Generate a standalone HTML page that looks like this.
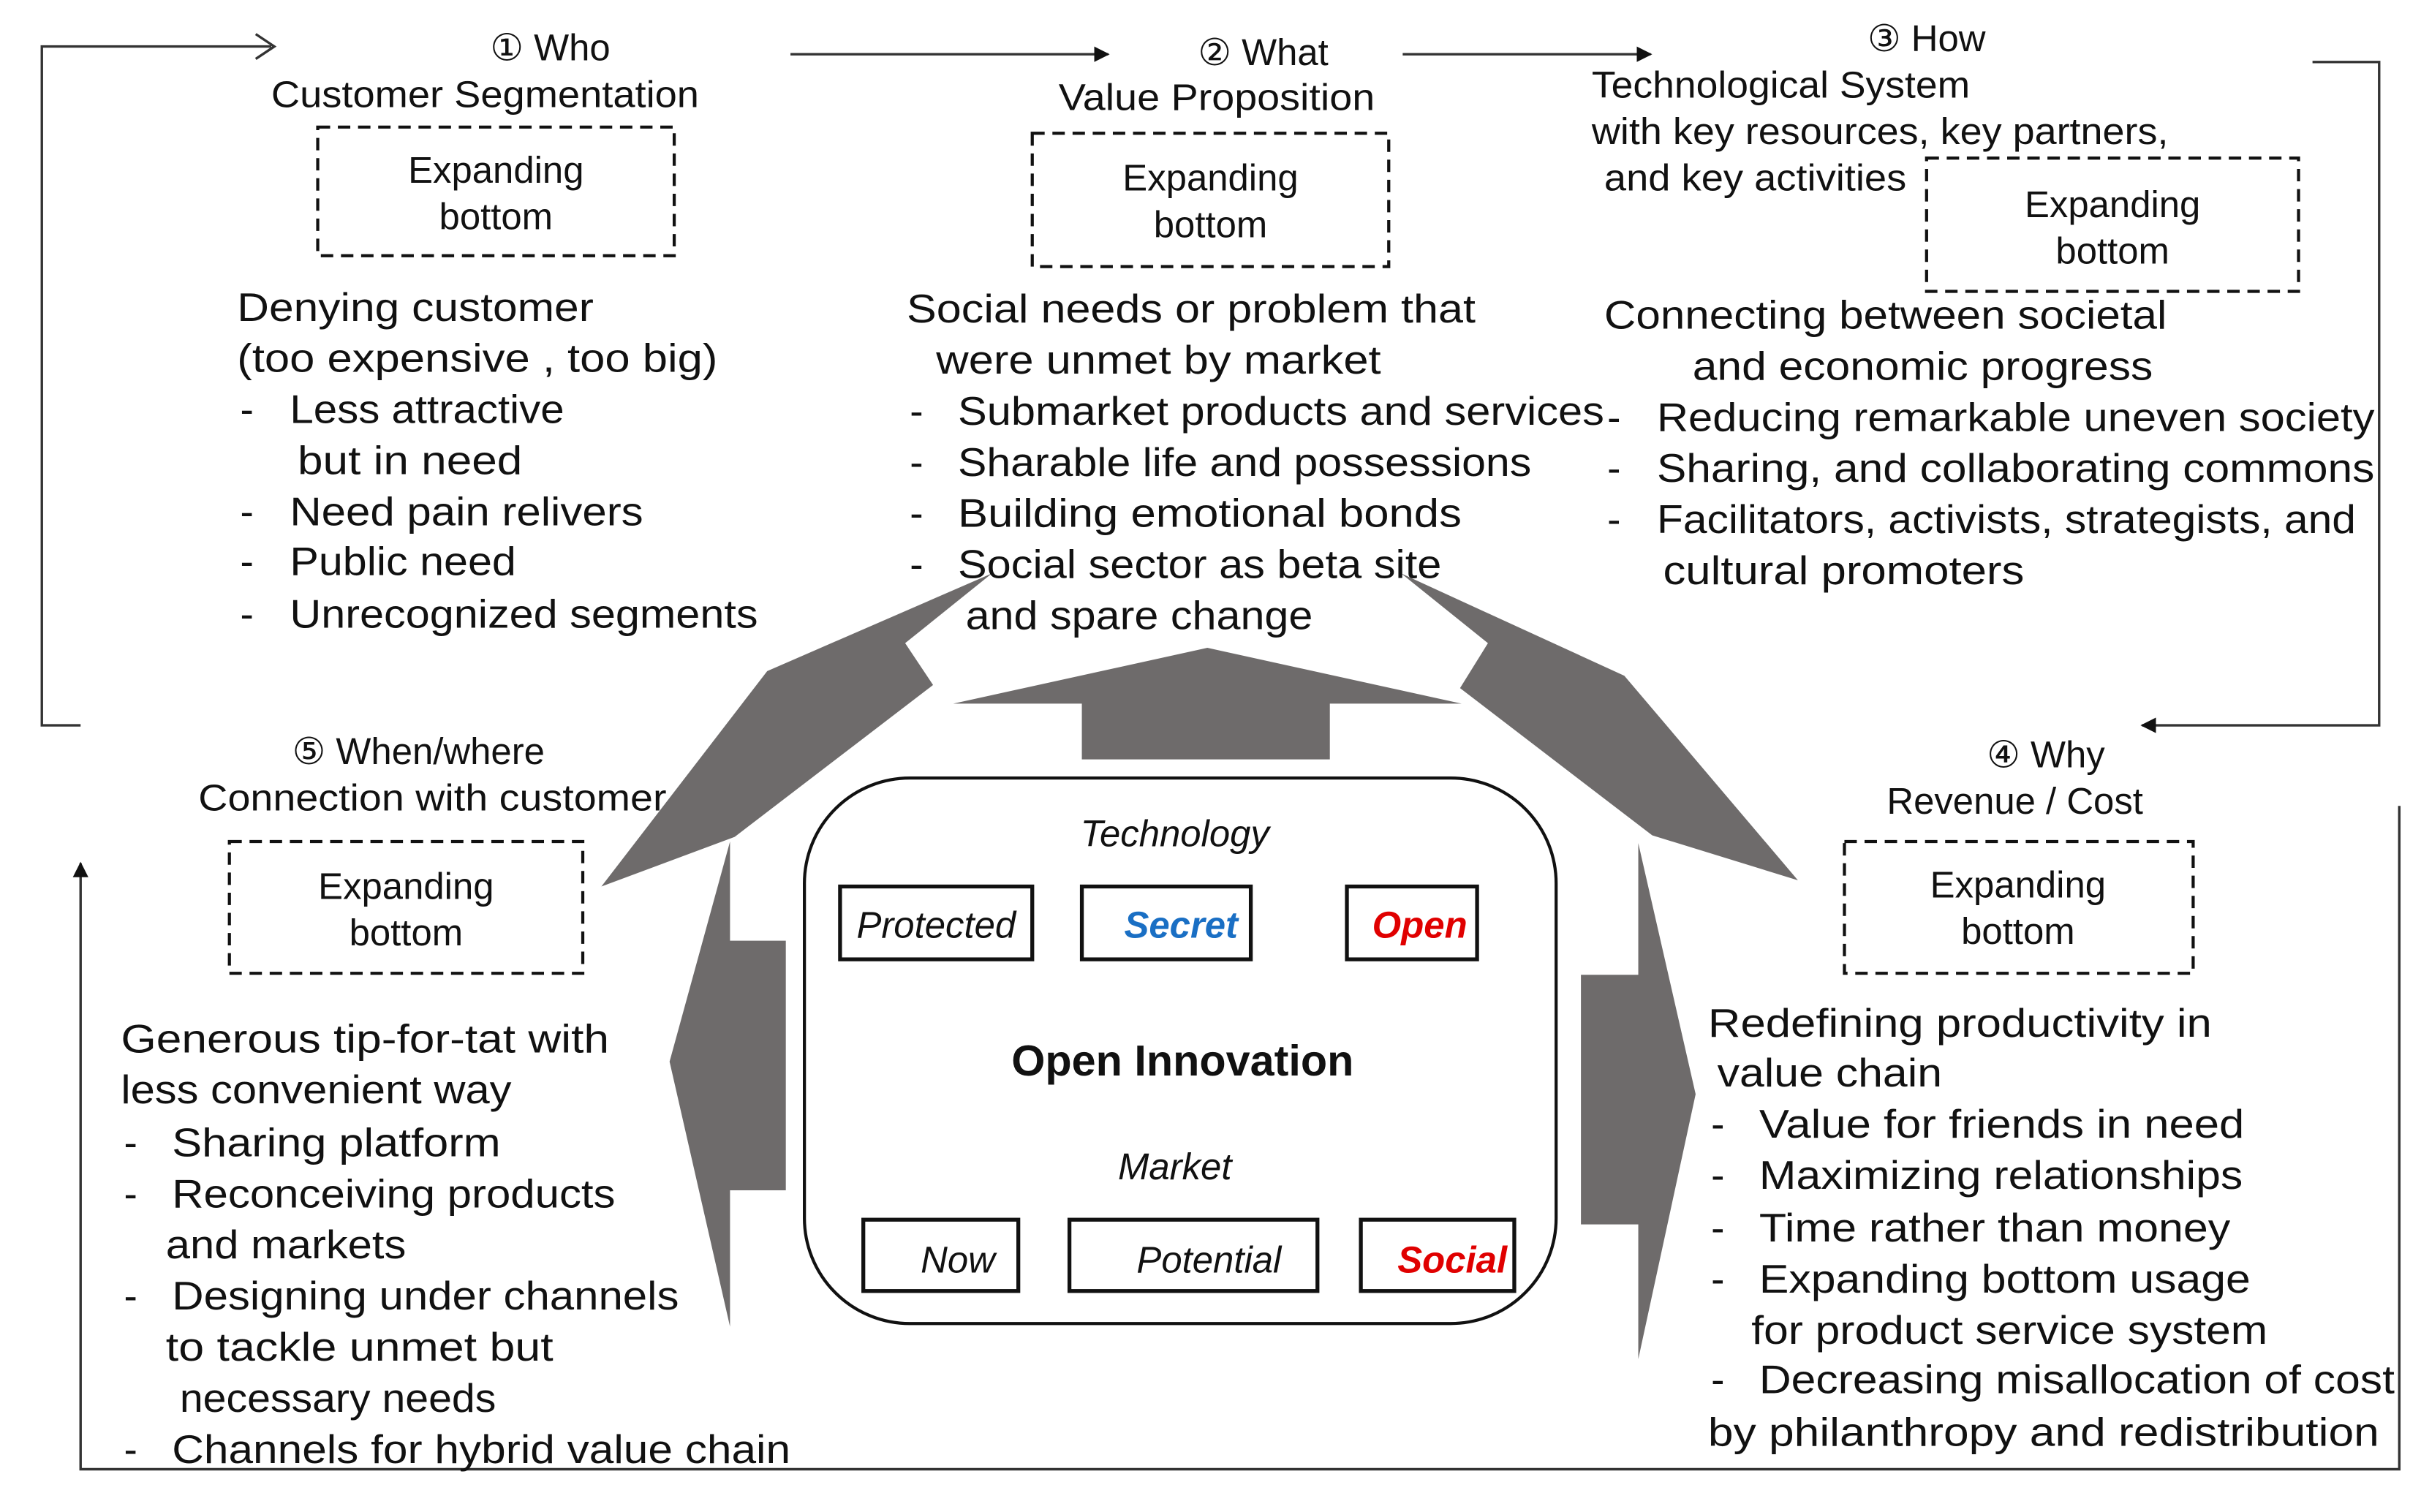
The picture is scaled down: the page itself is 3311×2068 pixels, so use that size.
<!DOCTYPE html>
<html><head><meta charset="utf-8"><style>
html,body{margin:0;padding:0;background:#fff;}
svg{display:block;}
text{font-family:"Liberation Sans","DejaVu Sans",sans-serif;fill:#111;}
</style></head><body>
<svg width="3311" height="2068" viewBox="0 0 1562 975.6" preserveAspectRatio="none" xmlns="http://www.w3.org/2000/svg">
<defs>
<marker id="fa" markerWidth="10" markerHeight="10" refX="9" refY="5" orient="auto" markerUnits="userSpaceOnUse"><path d="M0,0 L10,5 L0,10 z" fill="#111"/></marker>
</defs>
<rect width="1562" height="976" fill="#fff"/>
<!-- connectors -->
<g stroke="#333" stroke-width="1.6" fill="none">
<polyline points="52,468 27,468 27,30 175,30"/>
<polyline points="165,22 177,30 165,38"/>
<line x1="510" y1="35" x2="715" y2="35" marker-end="url(#fa)"/>
<line x1="905" y1="35" x2="1065" y2="35" marker-end="url(#fa)"/>
<polyline points="1492,40 1535,40 1535,468 1382,468" marker-end="url(#fa)"/>
<polyline points="1548,520 1548,948 52,948 52,557" marker-end="url(#fa)"/>
</g>
<!-- gray arrows -->
<g fill="#6e6b6b">
<polygon points="615,454 779,418 943,454 858,454 858,490 698,490 698,454"/>
<polygon points="640,370 584,415 602,442 474,540 388,572 495,433"/>
<polygon points="904,370 960,415 942,444 1066,539 1160,568 1048,436"/>
<polygon points="471,543 432,685 471,856 471,768 507,768 507,607 471,607"/>
<polygon points="1057,544 1094,706 1057,877 1057,790 1020,790 1020,629 1057,629"/>
</g>
<!-- center box -->
<rect x="519" y="502" width="485" height="352" rx="68" ry="68" fill="#fff" stroke="#111" stroke-width="2"/>
<text x="758" y="546" font-size="24" font-style="italic" text-anchor="middle">Technology</text>
<g fill="#fff" stroke="#111" stroke-width="2.5">
<rect x="542" y="572" width="124" height="47"/>
<rect x="698" y="572" width="109" height="47"/>
<rect x="869" y="572" width="84" height="47"/>
<rect x="557" y="787" width="100" height="46"/>
<rect x="690" y="787" width="160" height="46"/>
<rect x="878" y="787" width="99" height="46"/>
</g>
<text x="604" y="605" font-size="24" font-style="italic" text-anchor="middle">Protected</text>
<text x="762" y="605" font-size="24" font-style="italic" font-weight="bold" text-anchor="middle" style="fill:#1a6fc4">Secret</text>
<text x="916" y="605" font-size="24" font-style="italic" font-weight="bold" text-anchor="middle" style="fill:#e00000">Open</text>
<text x="763" y="694" font-size="28" font-weight="bold" text-anchor="middle">Open Innovation</text>
<text x="758" y="761" font-size="24" font-style="italic" text-anchor="middle">Market</text>
<text x="618" y="821" font-size="24" font-style="italic" text-anchor="middle">Now</text>
<text x="780" y="821" font-size="24" font-style="italic" text-anchor="middle">Potential</text>
<text x="937" y="821" font-size="24" font-style="italic" font-weight="bold" text-anchor="middle" style="fill:#e00000">Social</text>
<!-- dashed boxes -->
<g fill="none" stroke="#111" stroke-width="2" stroke-dasharray="8,5">
<rect x="205" y="82" width="230" height="83"/>
<rect x="666" y="86" width="230" height="86"/>
<rect x="1243" y="102" width="240" height="86"/>
<rect x="1190" y="543" width="225" height="85"/>
<rect x="148" y="543" width="228" height="85"/>
</g>
<g font-size="24" text-anchor="middle">
<text x="320" y="118">Expanding</text><text x="320" y="148">bottom</text>
<text x="781" y="123">Expanding</text><text x="781" y="153">bottom</text>
<text x="1363" y="140">Expanding</text><text x="1363" y="170">bottom</text>
<text x="1302" y="579">Expanding</text><text x="1302" y="609">bottom</text>
<text x="262" y="580">Expanding</text><text x="262" y="610">bottom</text>
</g>
<!-- headings -->
<g font-size="24">
<text x="355" y="39" text-anchor="middle">① Who</text>
<text x="313" y="69" text-anchor="middle" textLength="276" lengthAdjust="spacingAndGlyphs">Customer Segmentation</text>
<text x="815" y="42" text-anchor="middle">② What</text>
<text x="785" y="71" text-anchor="middle" textLength="204" lengthAdjust="spacingAndGlyphs">Value Proposition</text>
<text x="1243" y="33" text-anchor="middle">③ How</text>
<text x="1027" y="63" textLength="244" lengthAdjust="spacingAndGlyphs">Technological System</text>
<text x="1027" y="93" textLength="372" lengthAdjust="spacingAndGlyphs">with key resources, key partners,</text>
<text x="1035" y="123" textLength="195" lengthAdjust="spacingAndGlyphs">and key activities</text>
<text x="1320" y="495" text-anchor="middle">④ Why</text>
<text x="1300" y="525" text-anchor="middle">Revenue / Cost</text>
<text x="270" y="493" text-anchor="middle">⑤ When/where</text>
<text x="279" y="523" text-anchor="middle" textLength="302" lengthAdjust="spacingAndGlyphs">Connection with customer</text>
</g>
<!-- body text -->
<g font-size="26" lengthAdjust="spacingAndGlyphs">
<text x="153" y="207" textLength="230" lengthAdjust="spacingAndGlyphs">Denying customer</text>
<text x="153" y="240" textLength="310" lengthAdjust="spacingAndGlyphs">(too expensive , too big)</text>
<text x="155" y="273">-</text><text x="187" y="273" textLength="177" lengthAdjust="spacingAndGlyphs">Less attractive</text>
<text x="192" y="306" textLength="145" lengthAdjust="spacingAndGlyphs">but in need</text>
<text x="155" y="339">-</text><text x="187" y="339" textLength="228" lengthAdjust="spacingAndGlyphs">Need pain relivers</text>
<text x="155" y="371">-</text><text x="187" y="371" textLength="146" lengthAdjust="spacingAndGlyphs">Public need</text>
<text x="155" y="405">-</text><text x="187" y="405" textLength="302" lengthAdjust="spacingAndGlyphs">Unrecognized segments</text>

<text x="585" y="208" textLength="367" lengthAdjust="spacingAndGlyphs">Social needs or problem that</text>
<text x="604" y="241" textLength="287" lengthAdjust="spacingAndGlyphs">were unmet by market</text>
<text x="587" y="274">-</text><text x="618" y="274" textLength="417" lengthAdjust="spacingAndGlyphs">Submarket products and services</text>
<text x="587" y="307">-</text><text x="618" y="307" textLength="370" lengthAdjust="spacingAndGlyphs">Sharable life and possessions</text>
<text x="587" y="340">-</text><text x="618" y="340" textLength="325" lengthAdjust="spacingAndGlyphs">Building emotional bonds</text>
<text x="587" y="373">-</text><text x="618" y="373" textLength="312" lengthAdjust="spacingAndGlyphs">Social sector as beta site</text>
<text x="623" y="406" textLength="224" lengthAdjust="spacingAndGlyphs">and spare change</text>

<text x="1035" y="212" textLength="363" lengthAdjust="spacingAndGlyphs">Connecting between societal</text>
<text x="1092" y="245" textLength="297" lengthAdjust="spacingAndGlyphs">and economic progress</text>
<text x="1037" y="278">-</text><text x="1069" y="278" textLength="463" lengthAdjust="spacingAndGlyphs">Reducing remarkable uneven society</text>
<text x="1037" y="311">-</text><text x="1069" y="311" textLength="463" lengthAdjust="spacingAndGlyphs">Sharing, and collaborating commons</text>
<text x="1037" y="344">-</text><text x="1069" y="344" textLength="451" lengthAdjust="spacingAndGlyphs">Facilitators, activists, strategists, and</text>
<text x="1073" y="377" textLength="233" lengthAdjust="spacingAndGlyphs">cultural promoters</text>

<text x="1102" y="669" textLength="325" lengthAdjust="spacingAndGlyphs">Redefining productivity in</text>
<text x="1108" y="701" textLength="145" lengthAdjust="spacingAndGlyphs">value chain</text>
<text x="1104" y="734">-</text><text x="1135" y="734" textLength="313" lengthAdjust="spacingAndGlyphs">Value for friends in need</text>
<text x="1104" y="767">-</text><text x="1135" y="767" textLength="312" lengthAdjust="spacingAndGlyphs">Maximizing relationships</text>
<text x="1104" y="801">-</text><text x="1135" y="801" textLength="304" lengthAdjust="spacingAndGlyphs">Time rather than money</text>
<text x="1104" y="834">-</text><text x="1135" y="834" textLength="317" lengthAdjust="spacingAndGlyphs">Expanding bottom usage</text>
<text x="1130" y="867" textLength="333" lengthAdjust="spacingAndGlyphs">for product service system</text>
<text x="1104" y="899">-</text><text x="1135" y="899" textLength="410" lengthAdjust="spacingAndGlyphs">Decreasing misallocation of cost</text>
<text x="1102" y="933" textLength="433" lengthAdjust="spacingAndGlyphs">by philanthropy and redistribution</text>

<text x="78" y="679" textLength="315" lengthAdjust="spacingAndGlyphs">Generous tip-for-tat with</text>
<text x="78" y="712" textLength="252" lengthAdjust="spacingAndGlyphs">less convenient way</text>
<text x="80" y="746">-</text><text x="111" y="746" textLength="212" lengthAdjust="spacingAndGlyphs">Sharing platform</text>
<text x="80" y="779">-</text><text x="111" y="779" textLength="286" lengthAdjust="spacingAndGlyphs">Reconceiving products</text>
<text x="107" y="812" textLength="155" lengthAdjust="spacingAndGlyphs">and markets</text>
<text x="80" y="845">-</text><text x="111" y="845" textLength="327" lengthAdjust="spacingAndGlyphs">Designing under channels</text>
<text x="107" y="878" textLength="250" lengthAdjust="spacingAndGlyphs">to tackle unmet but</text>
<text x="116" y="911" textLength="204" lengthAdjust="spacingAndGlyphs">necessary needs</text>
<text x="80" y="944">-</text><text x="111" y="944" textLength="399" lengthAdjust="spacingAndGlyphs">Channels for hybrid value chain</text>
</g>
</svg>
</body></html>
